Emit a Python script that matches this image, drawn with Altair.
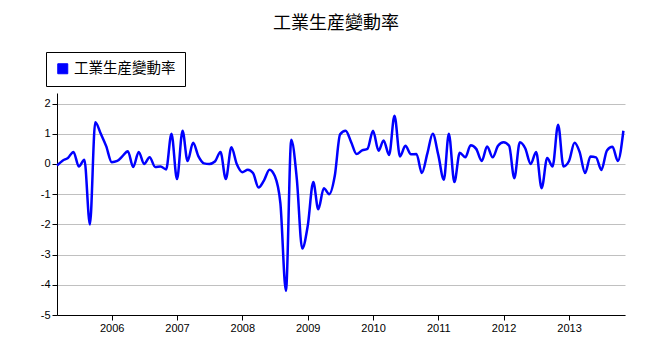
import altair as alt
import pandas as pd

series_name = "工業生産變動率"
start_month = "2005-03-01"
values = [
    -0.05, 0.11, 0.2, 0.4, -0.08, 0.14, -2.0, 1.38, 1.0, 0.59,
    0.06, 0.1, 0.25, 0.42, -0.1, 0.4, 0.0, 0.22, -0.1, -0.08,
    -0.18, 1.0, -0.5, 1.1, 0.1, 0.7, 0.25, 0.02, 0.0, 0.08,
    0.4, -0.5, 0.55, 0.0, -0.27, -0.19, -0.3, -0.78, -0.55, -0.19,
    -0.4, -1.3, -4.2, 0.8, -0.5, -2.8, -2.05, -0.6, -1.5, -0.8,
    -1.0, -0.4, 0.98, 1.1, 0.72, 0.33, 0.45, 0.5, 1.1, 0.44,
    0.78, 0.3, 1.6, 0.25, 0.6, 0.32, 0.33, -0.3, 0.35, 1.0,
    0.3, -0.52, 1.0, -0.6, 0.37, 0.22, 0.62, 0.5, 0.1, 0.58,
    0.22, 0.6, 0.72, 0.6, -0.47, 0.72, 0.52, 0.0, 0.4, -0.8,
    0.2, -0.08, 1.3, -0.08, 0.1, 0.7, 0.4, -0.3, 0.25, 0.22,
    -0.2, 0.45, 0.57, 0.1, 1.1,
]
year_ticks = [2006, 2007, 2008, 2009, 2010, 2011, 2012, 2013]
y_ticks = [-5, -4, -3, -2, -1, 0, 1, 2]

dates = pd.date_range(start_month, periods=len(values), freq="MS").strftime("%Y-%m-%d")
df = pd.DataFrame({"date": dates, "value": values, "series": series_name})

tick_dates = [alt.DateTime(year=y, month=1, date=1) for y in year_ticks]

chart = (
    alt.Chart(df)
    .mark_line(interpolate="monotone", strokeWidth=2.5)
    .encode(
        x=alt.X(
            "date:T",
            scale=alt.Scale(
                domain=[alt.DateTime(year=2005, month=3, date=1),
                        alt.DateTime(year=2013, month=11, date=10)],
                nice=False,
            ),
            axis=alt.Axis(
                title=None, values=tick_dates, format="%Y", grid=False,
                tickSize=5, labelPadding=2, labelFontSize=11,
                labelFont="Liberation Sans", labelColor="black",
                domainColor="black", tickColor="black",
            ),
        ),
        y=alt.Y(
            "value:Q",
            scale=alt.Scale(domain=[-5, 2.35], nice=False, zero=False),
            axis=alt.Axis(
                title=None, values=y_ticks, grid=True, gridColor="#c0c0c0",
                tickSize=5, labelPadding=2, labelFontSize=11,
                labelExpr="'' + datum.value",
                labelFont="Liberation Sans", labelColor="black",
                domainColor="black", tickColor="black",
            ),
        ),
        color=alt.Color(
            "series:N",
            scale=alt.Scale(range=["#0000ff"]),
            legend=alt.Legend(
                title=None, orient="none", legendX=-11, legendY=-41,
                symbolType="square", symbolFillColor="#0000ff",
                symbolStrokeColor="#000066", symbolStrokeWidth=1,
                symbolSize=100, labelFontSize=14.5, labelOffset=4,
                labelFont="Noto Sans CJK TC", labelColor="black",
                strokeColor="black", fillColor="white", padding=9.5,
            ),
        ),
    )
    .properties(
        width=568,
        height=222,
        padding={"left": 57, "top": 93, "right": 21, "bottom": 39},
        autosize=alt.AutoSizeParams(type="none"),
        title=alt.TitleParams(
            "工業生産變動率", fontSize=18, font="Noto Sans CJK TC",
            fontWeight="normal", color="black", anchor="middle", dx=-5, offset=19,
        ),
    )
    .configure_view(stroke=None)
)

chart.save("out.html", embed_options={"renderer": "svg", "actions": False})
